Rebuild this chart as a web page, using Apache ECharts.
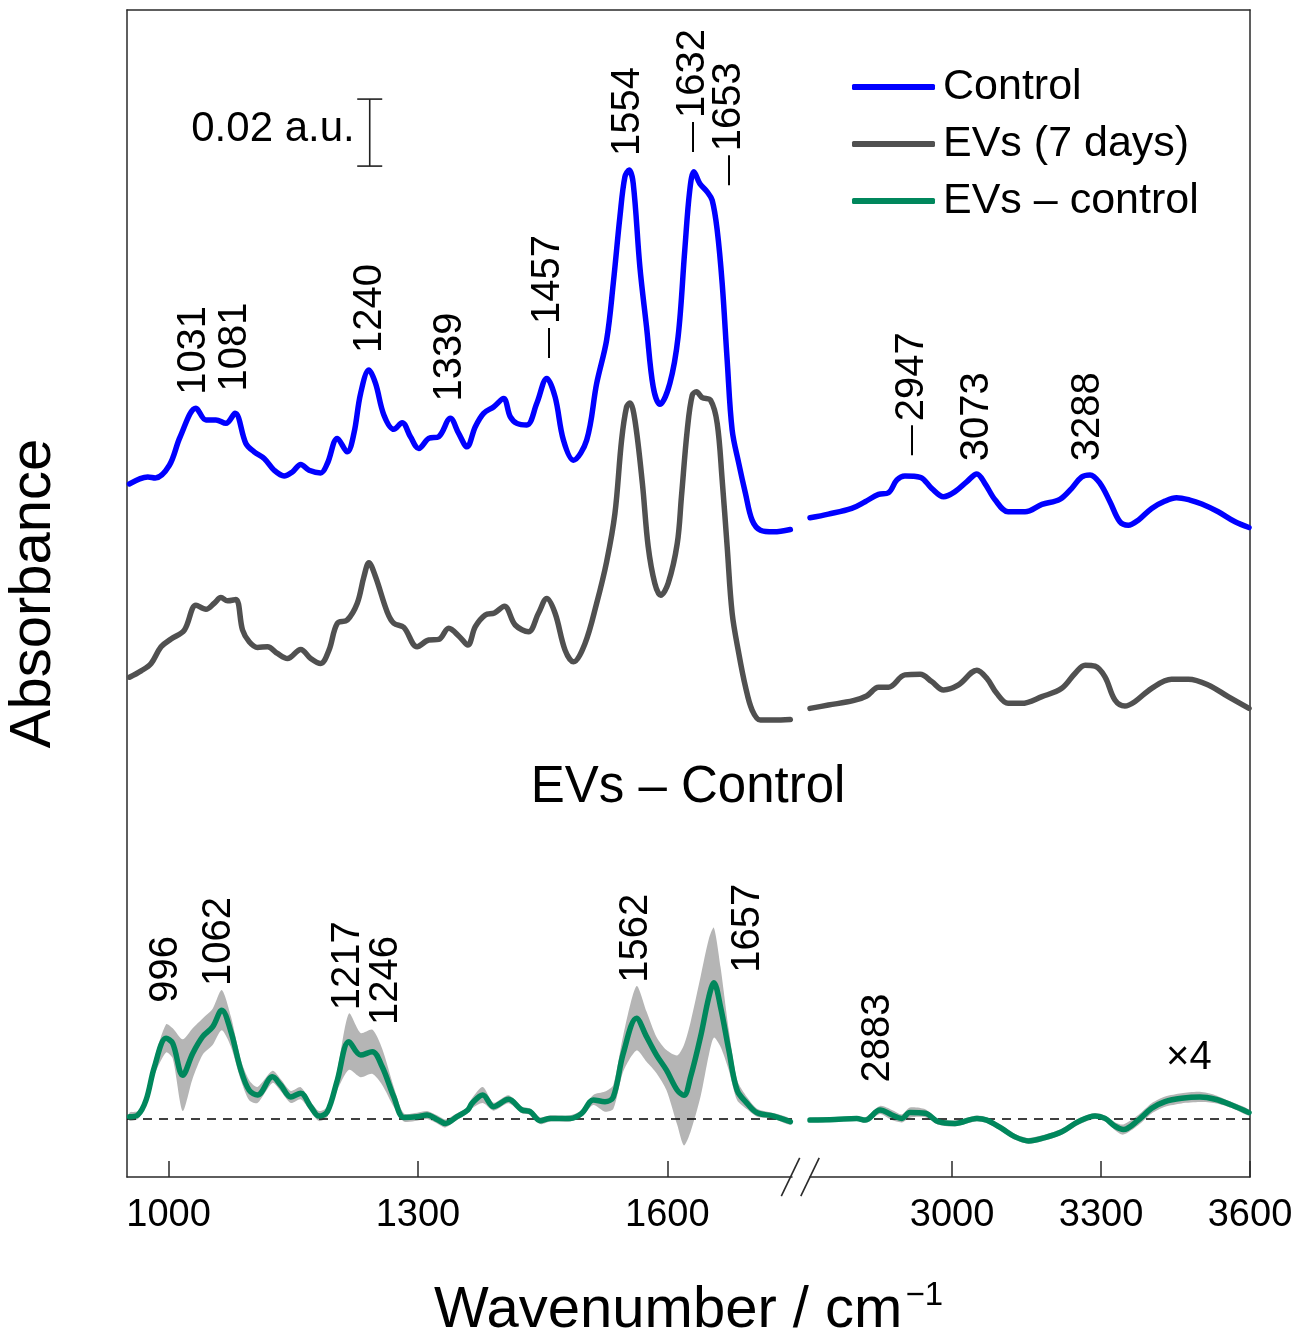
<!DOCTYPE html>
<html>
<head>
<meta charset="utf-8">
<script src="https://cdn.jsdelivr.net/npm/echarts@6/dist/echarts.min.js"></script>
<style>
  html, body { margin: 0; padding: 0; background: #fff; }
  #chart { width: 1316px; height: 1334px; }
</style>
</head>
<body>
<div id="chart"></div>
<script>
// IR spectra, absorbance in 10^-3 a.u. (baseline-relative), wavenumbers in cm^-1.
// Fingerprint / amide region (950–1750 cm^-1)
const controlLowX = [953,975,984,1001,1014,1033,1045,1057,1069,1080,1093,1103,1115,1127,1139,1149,1159,1169,1183,1191,1203,1215,1223,1231,1241,1249,1259,1271,1281,1291,1301,1313,1325,1339,1349,1359,1369,1379,1391,1403,1411,1419,1431,1443,1455,1465,1475,1487,1503,1515,1527,1535,1543,1549,1554,1559,1567,1575,1583,1591,1603,1613,1621,1627,1632,1639,1648,1654,1660,1666,1672,1678,1686,1694,1702,1712,1728,1748];
const controlLowY = [16.9,19.0,18.7,22.5,31.0,39.5,36.0,36.0,35.0,38.0,29.0,26.5,24.5,21.0,19.3,20.5,22.7,21.0,20.2,23.0,30.5,26.5,32.0,43.9,50.9,46.9,37.5,33.2,35.2,31.0,27.5,30.5,31.0,36.5,32.0,28.0,34.0,38.0,39.9,42.4,37.0,35.0,34.5,41.0,48.4,42.9,30.0,24.0,30.0,46.9,59.9,76.8,96.7,108.6,110.6,106.6,81.7,63.8,45.9,40.7,46.9,60.9,86.7,104.6,110.1,106.6,104.1,101.6,92.7,76.8,53.9,33.0,23.0,14.1,6.1,3.1,2.6,3.3];

const evsLowX = [953,967,979,991,1003,1019,1033,1045,1055,1063,1071,1081,1089,1097,1107,1119,1131,1143,1159,1171,1183,1193,1203,1215,1227,1235,1241,1249,1263,1271,1283,1299,1313,1325,1337,1350,1360,1369,1381,1392,1404,1417,1433,1445,1455,1465,1477,1487,1501,1515,1527,1537,1545,1551,1555,1561,1570,1577,1585,1592,1601,1612,1617,1624,1630,1635,1642,1652,1660,1666,1672,1678,1686,1694,1702,1712,1728,1748];
const evsLowY = [14.2,16.1,18.3,23.3,25.6,28.3,35.7,34.5,36.3,38.0,37.0,37.4,28.3,24.8,23.1,23.3,21.3,19.8,22.5,19.8,18.3,22.3,30.3,31.3,36.3,44.2,48.4,44.2,33.7,30.3,29.1,23.3,25.3,25.5,28.8,26.3,23.8,29.3,32.8,33.4,35.4,29.8,27.8,33.3,37.7,33.3,22.3,18.8,24.3,36.3,48.7,63.1,85.0,94.9,96.1,91.0,72.1,53.2,42.2,38.7,42.2,54.2,68.1,88.0,98.4,99.4,97.7,96.9,90.0,73.1,53.2,33.3,21.3,11.4,4.4,1.4,1.4,1.6];

const diffLowX = [953,963,973,983,997,1005,1017,1029,1041,1053,1064,1075,1087,1097,1107,1125,1135,1147,1159,1171,1181,1191,1203,1217,1231,1245,1257,1271,1283,1299,1311,1323,1333,1347,1360,1365,1378,1391,1409,1425,1435,1447,1459,1483,1497,1511,1525,1535,1547,1563,1575,1587,1599,1612,1620,1628,1640,1650,1656,1664,1674,1684,1696,1708,1728,1748];
const diffLowY = [0.5,1.0,5.5,15.4,23.9,22.4,12.9,19.4,24.4,27.3,32.3,25.9,14.4,8.4,7.0,12.4,9.9,6.4,7.5,3.5,0.7,2.0,11.4,22.9,18.9,19.9,15.4,6.4,0.3,0.5,1.0,-0.3,-1.5,0.5,2.5,4.5,7.0,3.5,5.7,2.5,2.0,-0.7,0,0,1.5,5.5,5.0,6.4,19.4,29.9,24.4,18.9,14.4,8.4,6.9,12.4,24.4,36.3,40.5,33.3,20.4,8.4,4.5,1.7,0.7,-1.0];
const diffLowSd = [1.2,1.2,1.5,2.4,4.2,4.5,10.7,7.5,5.4,5.4,6.0,4.5,3.0,3.0,2.4,1.8,1.8,1.8,1.8,1.5,1.5,1.5,3.0,8.4,6.6,6.6,5.4,3.0,1.2,1.2,1.2,1.2,1.2,1.0,1.0,1.5,2.4,1.2,1.2,1.0,1.0,1.0,0.9,0.9,1.0,1.5,3.0,3.6,5.4,9.6,7.5,5.4,6.0,10.4,15.0,16.4,17.9,17.3,16.4,11.9,6.0,3.0,1.8,1.2,0.9,0.9];

// C–H / N–H / O–H stretching region (2714–3600 cm^-1)
const controlHighX = [2714,2751,2798,2825,2852,2872,2889,2905,2936,2959,2983,3006,3030,3050,3066,3087,3113,3147,3181,3217,3241,3261,3278,3298,3318,3338,3355,3375,3402,3429,3452,3479,3503,3536,3570,3598];
const controlHighY = [6.8,7.9,9.6,11.6,13.8,14.3,18.1,19.3,18.9,15.6,13.1,14.6,17.6,19.9,17.1,12.1,8.6,8.6,10.8,12.3,15.6,19.0,19.6,17.1,11.6,5.6,4.6,6.1,9.6,11.8,12.8,12.1,10.9,8.6,5.6,3.9];

const evsHighX = [2714,2751,2801,2828,2852,2872,2905,2936,2959,2983,3013,3050,3070,3090,3113,3140,3181,3221,3248,3268,3288,3308,3328,3348,3368,3402,3442,3476,3516,3556,3598];
const evsHighY = [4.9,5.9,7.2,8.6,11.2,11.2,14.9,15.1,12.9,10.4,11.9,16.3,13.9,9.4,6.4,6.4,8.4,10.9,15.4,17.8,17.5,14.3,7.4,5.6,6.9,10.9,13.6,13.6,11.9,8.4,4.9];

// Difference spectrum in the high region, unscaled (drawn magnified ×4)
const diffHighX = [2714,2764,2808,2825,2855,2879,2899,2915,2946,2972,3006,3050,3070,3100,3127,3154,3187,3221,3254,3288,3308,3328,3345,3375,3402,3429,3462,3499,3530,3563,3598];
const diffHighY = [-0.13,-0.08,0,-0.13,0.63,0.25,0,0.43,0.38,-0.25,-0.38,0,-0.13,-0.75,-1.38,-1.68,-1.43,-1.0,-0.25,0.18,0,-0.58,-0.83,-0.13,0.75,1.25,1.5,1.6,1.43,1.0,0.43];
const diffHighSd = [0.15,0.15,0.15,0.2,0.3,0.38,0.3,0.38,0.3,0.22,0.22,0.22,0.22,0.22,0.22,0.22,0.22,0.22,0.22,0.22,0.22,0.3,0.38,0.38,0.38,0.38,0.38,0.38,0.3,0.22,0.22];
const highScale = 4;

// Axis ticks
const ticksLow = [1000, 1300, 1600];
const ticksHigh = [3000, 3300, 3600];

// Vertical offsets of the stacked traces (10^-3 a.u.)
const offsetControl = 190;
const offsetEvs = 135;
const offsetDiff = 17.5;

// Band assignments: [text, wavenumber anchor, height anchor, leader dash]
const bandLabelsLow = [
  ['1031', 1030, 233.5, false],
  ['1081', 1080, 234.5, false],
  ['1240', 1242, 246.0, false],
  ['1339', 1338, 231.5, false],
  ['1457', 1457, 244.5, true],
  ['1554', 1553, 304.8, false],
  ['1632', 1631, 306.0, true],
  ['1653', 1674, 296.1, true],
  ['996', 997, 52.0, false],
  ['1062', 1061, 57.0, false],
  ['1217', 1216, 49.8, false],
  ['1246', 1262, 45.4, false],
  ['1562', 1562, 58.0, false],
  ['1657', 1697, 61.0, false]
];
const bandLabelsHigh = [
  ['2947', 2919, 215.5, true],
  ['3073', 3050, 213.7, false],
  ['3288', 3274, 213.7, false],
  ['2883', 2850, 28.2, false]
];

// 0.02 a.u. scale bar: [wavenumber, lower end, length] in 10^-3 a.u.
const scaleBar = [1242, 301.8, 20];

const FONT = "'Liberation Sans', Arial, sans-serif";
const BLUE = '#0000ff';
const GREY = '#505050';
const GREEN = '#00875c';
const BAND = '#b5b5b5';
const AXIS = '#2a2a2a';

const xLowMin = 950, xLowMax = 1750;
const xHighMin = 2714, xHighMax = 3600;
const yMax = 348.4;

function pairs(xs, ys, shift, k) {
  k = k || 1;
  return xs.map((x, i) => [x, ys[i] * k + shift]);
}

function traceSeries(name, xs, ys, shift, color, width, axis, k) {
  return {
    name: name,
    type: 'line',
    xAxisIndex: axis, yAxisIndex: axis,
    data: pairs(xs, ys, shift, k),
    showSymbol: false, symbol: 'none',
    smooth: 0.35,
    lineStyle: { color: color, width: width, cap: 'round', join: 'round' },
    itemStyle: { color: color },
    z: 5,
    silent: true
  };
}

// Shaded ± standard-deviation envelope around the difference spectrum
function bandSeries(xs, ys, sd, shift, axis, k) {
  k = k || 1;
  return {
    type: 'custom', xAxisIndex: axis, yAxisIndex: axis, silent: true, z: 2,
    data: [[xs[0], shift]],
    renderItem: function (params, api) {
      const upper = xs.map((x, i) => api.coord([x, (ys[i] + sd[i]) * k + shift]));
      const lower = xs.map((x, i) => api.coord([x, (ys[i] - sd[i]) * k + shift])).reverse();
      return {
        type: 'polygon',
        shape: { points: upper.concat(lower), smooth: 0.25 },
        style: { fill: BAND }
      };
    }
  };
}

function labelSeries(list, axis) {
  return {
    type: 'scatter', xAxisIndex: axis, yAxisIndex: axis,
    symbolSize: 0, silent: true, z: 6,
    itemStyle: { opacity: 1 },
    data: list.map(d => ({
      value: [d[1], d[2]],
      label: {
        show: true,
        formatter: d[3] ? '{d|—}{n|' + d[0] + '}' : '{n|' + d[0] + '}'
      }
    })),
    label: {
      show: true,
      position: [0, 0],
      rotate: 90,
      align: 'left',
      verticalAlign: 'middle',
      color: '#000',
      rich: {
        n: { fontSize: 40, fontFamily: FONT, color: '#000' },
        d: { fontSize: 30, fontFamily: FONT, color: '#000', padding: [0, 4, 0, 0] }
      }
    }
  };
}

function zeroLine() {
  return {
    symbol: 'none', silent: true, animation: false,
    label: { show: false },
    lineStyle: { type: [9, 7], color: '#000', width: 1.5 },
    data: [{ yAxis: offsetDiff }]
  };
}

const chart = echarts.init(document.getElementById('chart'), null, { renderer: 'canvas' });

const baseX = {
  type: 'value',
  splitLine: { show: false },
  axisLine: { show: true, onZero: false, lineStyle: { color: AXIS, width: 1.5 } },
  axisTick: { show: true, inside: true, length: 16, lineStyle: { color: AXIS, width: 1.5 } },
  axisLabel: {
    show: true, fontSize: 38, fontFamily: FONT, color: '#000', margin: 20,
    showMinLabel: true, showMaxLabel: true,
    formatter: v => String(v)
  }
};

const gridBase = { outerBoundsMode: 'none', containLabel: false, top: 10, height: 1167 };

const option = {
  animation: false,
  backgroundColor: '#fff',
  grid: [
    Object.assign({ left: 127, width: 665 }, gridBase),
    Object.assign({ left: 810, width: 440 }, gridBase),
    Object.assign({ left: 127, width: 1123 }, gridBase)
  ],
  xAxis: [
    Object.assign({}, baseX, {
      gridIndex: 0, min: xLowMin, max: xLowMax,
      axisTick: Object.assign({}, baseX.axisTick, { customValues: ticksLow }),
      axisLabel: Object.assign({}, baseX.axisLabel, { customValues: ticksLow })
    }),
    Object.assign({}, baseX, {
      gridIndex: 1, min: xHighMin, max: xHighMax,
      axisTick: Object.assign({}, baseX.axisTick, { customValues: ticksHigh }),
      axisLabel: Object.assign({}, baseX.axisLabel, { customValues: ticksHigh })
    }),
    {
      gridIndex: 2, type: 'value', position: 'top', min: 0, max: 1,
      axisLine: { show: true, onZero: false, lineStyle: { color: AXIS, width: 1.5 } },
      axisTick: { show: false }, axisLabel: { show: false }, splitLine: { show: false }
    },
    {
      gridIndex: 2, type: 'value', position: 'bottom', min: 0, max: 1,
      axisLine: { show: false, onZero: false }, axisTick: { show: false }, axisLabel: { show: false }, splitLine: { show: false },
      name: '{a|Wavenumber / cm}{s|−1}',
      nameLocation: 'middle',
      nameGap: 102,
      nameTextStyle: {
        rich: {
          a: { fontSize: 58, fontFamily: FONT, color: '#000', lineHeight: 64 },
          s: { fontSize: 33, fontFamily: FONT, color: '#000', verticalAlign: 'top', lineHeight: 64, padding: [0, 0, 0, 3] }
        }
      }
    }
  ],
  yAxis: [
    {
      gridIndex: 0, type: 'value', min: 0, max: yMax, position: 'left',
      axisLine: { show: true, onZero: false, lineStyle: { color: AXIS, width: 1.5 } },
      axisTick: { show: false }, axisLabel: { show: false }, splitLine: { show: false },
      name: 'Absorbance', nameLocation: 'middle', nameGap: 64, nameRotate: 90,
      nameTextStyle: { fontSize: 58, fontFamily: FONT, color: '#000' }
    },
    {
      gridIndex: 1, type: 'value', min: 0, max: yMax, position: 'right',
      axisLine: { show: true, onZero: false, lineStyle: { color: AXIS, width: 1.5 } },
      axisTick: { show: false }, axisLabel: { show: false }, splitLine: { show: false }
    },
    {
      gridIndex: 2, type: 'value', min: 0, max: 1, show: false
    }
  ],
  legend: {
    orient: 'vertical',
    left: 847, top: 56,
    itemWidth: 83, itemHeight: 6, itemGap: 5,
    icon: 'roundRect',
    data: [
      { name: 'Control', itemStyle: { color: BLUE } },
      { name: 'EVs (7 days)', itemStyle: { color: GREY } },
      { name: 'EVs – control', itemStyle: { color: GREEN } }
    ],
    textStyle: { fontSize: 43, fontFamily: FONT, color: '#000', lineHeight: 52, padding: [0, 0, 0, 3] },
    selectedMode: false
  },
  series: [
    bandSeries(diffLowX, diffLowY, diffLowSd, offsetDiff, 0),
    bandSeries(diffHighX, diffHighY, diffHighSd, offsetDiff, 1, highScale),
    Object.assign(traceSeries('EVs – control', diffLowX, diffLowY, offsetDiff, GREEN, 5.5, 0), { markLine: zeroLine() }),
    Object.assign(traceSeries('EVs – control', diffHighX, diffHighY, offsetDiff, GREEN, 5.5, 1, highScale), { markLine: zeroLine() }),
    traceSeries('EVs (7 days)', evsLowX, evsLowY, offsetEvs, GREY, 5.5, 0),
    traceSeries('EVs (7 days)', evsHighX, evsHighY, offsetEvs, GREY, 5.5, 1),
    traceSeries('Control', controlLowX, controlLowY, offsetControl, BLUE, 5.5, 0),
    traceSeries('Control', controlHighX, controlHighY, offsetControl, BLUE, 5.5, 1),
    labelSeries(bandLabelsLow, 0),
    labelSeries(bandLabelsHigh, 1),
    {
      type: 'custom', xAxisIndex: 0, yAxisIndex: 0, silent: true, z: 6,
      data: [[scaleBar[0], scaleBar[1], scaleBar[1] + scaleBar[2]]],
      encode: { x: 0, y: [1, 2] },
      renderItem: function (params, api) {
        const p0 = api.coord([api.value(0), api.value(1)]);
        const p1 = api.coord([api.value(0), api.value(2)]);
        const w = 12.5;
        const st = { stroke: '#222', lineWidth: 1.6 };
        return {
          type: 'group',
          children: [
            { type: 'line', shape: { x1: p0[0], y1: p0[1], x2: p1[0], y2: p1[1] }, style: st },
            { type: 'line', shape: { x1: p0[0] - w, y1: p0[1], x2: p0[0] + w, y2: p0[1] }, style: st },
            { type: 'line', shape: { x1: p1[0] - w, y1: p1[1], x2: p1[0] + w, y2: p1[1] }, style: st },
            {
              type: 'text',
              style: {
                text: (scaleBar[2] / 1000).toFixed(2) + ' a.u.',
                x: p0[0] - 15, y: (p0[1] + p1[1]) / 2 - 3,
                align: 'right', verticalAlign: 'middle',
                font: '42px ' + FONT, fill: '#000'
              }
            }
          ]
        };
      }
    },
    {
      type: 'scatter', xAxisIndex: 1, yAxisIndex: 1, symbolSize: 0, silent: true, z: 6,
      itemStyle: { opacity: 1 },
      data: [[3477, 35.5]],
      label: {
        show: true, position: [0, 0], align: 'center', verticalAlign: 'middle',
        formatter: '×' + highScale, fontSize: 40, fontFamily: FONT, color: '#000'
      }
    },
    {
      type: 'scatter', xAxisIndex: 0, yAxisIndex: 0, symbolSize: 0, silent: true, z: 6,
      itemStyle: { opacity: 1 },
      data: [[1625, 116.3]],
      label: {
        show: true, position: [0, 0], align: 'center', verticalAlign: 'middle',
        formatter: 'EVs – Control', fontSize: 51, fontFamily: FONT, color: '#000'
      }
    }
  ]
};

chart.setOption(option);

// Axis break marks where the two x ranges meet
const pLeft = chart.convertToPixel({ xAxisIndex: 0, yAxisIndex: 0 }, [xLowMax, 0]);
const pRight = chart.convertToPixel({ xAxisIndex: 1, yAxisIndex: 1 }, [xHighMin, 0]);
const dx = 9.2, dy = 19.2;
function slash(x, y) {
  return {
    type: 'line', silent: true, z: 100,
    shape: { x1: x - dx, y1: y + dy, x2: x + dx, y2: y - dy },
    style: { stroke: AXIS, lineWidth: 1.6 }
  };
}
chart.setOption({
  graphic: [slash(pLeft[0] - 1.5, pLeft[1]), slash(pRight[0], pRight[1])]
});
</script>
</body>
</html>
